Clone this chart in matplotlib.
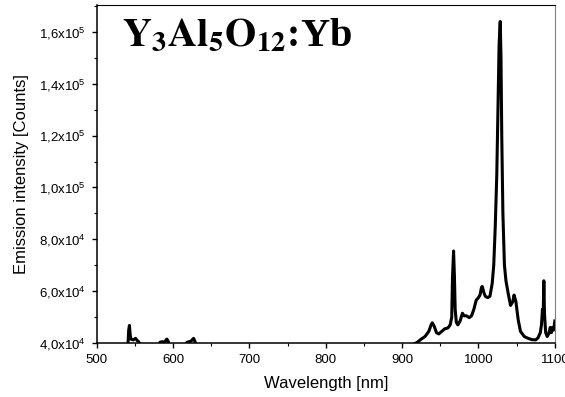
import matplotlib
matplotlib.use("Agg")
from matplotlib import pyplot as plt
from matplotlib.ticker import FuncFormatter, MultipleLocator

plt.rcParams["font.family"] = ["Liberation Sans", "DejaVu Sans"]
plt.rcParams["mathtext.fontset"] = "custom"
plt.rcParams["mathtext.rm"] = "Liberation Sans"
plt.rcParams["mathtext.it"] = "Liberation Sans:italic"
plt.rcParams["mathtext.bf"] = "Liberation Sans:bold"

# wavelength [nm] and emission intensity [counts]
wavelength = [538, 541, 542, 543, 544, 545, 548, 551, 553, 555, 557, 560,
              580, 583, 586, 589, 591, 592, 594, 597,
              615, 618, 621, 624, 626, 627, 629, 632,
              900, 915, 920, 925, 930, 935, 938, 939.5, 942, 945, 948, 952,
              956, 960, 963, 965, 966, 967.4, 968.5, 969.5, 971, 973, 976,
              979, 981, 984, 988, 991, 994, 997, 1000, 1002, 1004, 1005,
              1007, 1009, 1012, 1015, 1018, 1020, 1022, 1024, 1026, 1027,
              1028.5, 1029.5, 1030.5, 1032, 1034, 1036, 1039, 1042, 1045,
              1046.6, 1049, 1052, 1055, 1060, 1065, 1070, 1075, 1078, 1081,
              1082.5, 1083.8, 1084.7, 1085.6, 1086.5, 1088, 1090, 1092,
              1094, 1095.5, 1097, 1098.5, 1100]
intensity = [3.5e4, 3.9e4, 4.5e4, 4.68e4, 4.3e4, 4.15e4, 4.12e4, 4.18e4,
             4.1e4, 4.05e4, 3.95e4, 3.5e4,
             3.5e4, 4.03e4, 4.05e4, 4.03e4, 4.12e4, 4.15e4, 4.05e4, 3.5e4,
             3.5e4, 4.02e4, 4.05e4, 4.08e4, 4.15e4, 4.18e4, 4.05e4, 3.5e4,
             3.5e4, 3.95e4, 4.03e4, 4.15e4, 4.25e4, 4.45e4, 4.7e4, 4.78e4,
             4.65e4, 4.4e4, 4.35e4, 4.45e4,
             4.55e4, 4.58e4, 4.7e4, 5.0e4, 6.5e4, 7.55e4, 6.6e4, 5.3e4,
             4.8e4, 4.7e4, 4.85e4,
             5.15e4, 5.05e4, 5.05e4, 4.98e4, 5.05e4, 5.3e4, 5.65e4, 5.75e4,
             5.85e4, 6.15e4, 6.18e4,
             5.95e4, 5.8e4, 5.75e4, 5.8e4, 6.3e4, 7.0e4, 8.5e4, 1.05e5,
             1.38e5, 1.55e5,
             1.64e5, 1.5e5, 1.2e5, 9.0e4, 7.0e4, 6.4e4, 5.9e4, 5.45e4, 5.6e4,
             5.85e4, 5.6e4, 4.9e4, 4.45e4, 4.25e4, 4.18e4, 4.13e4, 4.12e4,
             4.2e4, 4.4e4,
             4.7e4, 5.3e4, 5.0e4, 6.4e4, 5.1e4, 4.4e4, 4.25e4, 4.35e4,
             4.6e4, 4.4e4, 4.6e4, 4.5e4, 4.85e4]


def sci_comma(v, pos):
    exp = len(str(int(v))) - 1
    mant = v / 10 ** exp
    return ("%.1f" % mant).replace(".", ",") + "x10$^{%d}$" % exp


fig = plt.figure(figsize=(5.65, 3.97), dpi=100)
ax = fig.add_axes([0.171, 0.136, 0.811, 0.851])

ax.plot(wavelength, intensity, color="black", lw=2.2)

ax.set_xlim(500, 1100)
ax.set_ylim(4.0e4, 1.703e5)
ax.xaxis.set_major_locator(MultipleLocator(100))
ax.xaxis.set_minor_locator(MultipleLocator(50))
ax.yaxis.set_major_locator(MultipleLocator(2e4))
ax.yaxis.set_minor_locator(MultipleLocator(1e4))
ax.yaxis.set_major_formatter(FuncFormatter(sci_comma))

ax.tick_params(which="major", direction="out", length=3.5, width=1,
               labelsize=9.5, top=False, right=False)
ax.tick_params(which="minor", direction="out", length=2, width=0.8,
               top=False, right=False)
ax.tick_params(axis="x", which="major", pad=4.5)
ax.tick_params(axis="y", which="major", pad=4.5)

for side in ["left", "bottom"]:
    ax.spines[side].set_linewidth(1.1)
ax.spines["top"].set_linewidth(0.8)
ax.spines["right"].set_linewidth(0.8)
ax.spines["right"].set_color("#808080")

ax.set_xlabel("Wavelength [nm]", fontsize=12, labelpad=7)
ax.set_ylabel("Emission intensity [Counts]", fontsize=12, labelpad=7)

ax.text(0.055, 0.877, r"$\mathbf{Y_3Al_5O_{12}}$:Yb", transform=ax.transAxes,
        fontsize=29, fontfamily="Liberation Serif", fontweight="bold",
        math_fontfamily="stix", ha="left", va="baseline")

fig.savefig("out.png", dpi=100)
